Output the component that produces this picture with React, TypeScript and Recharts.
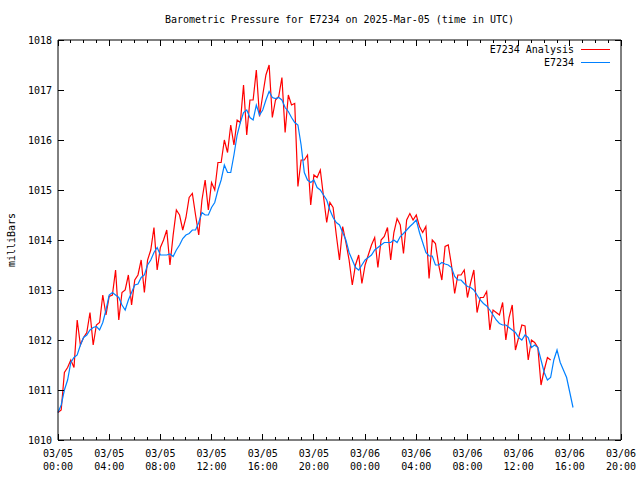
import { LineChart, Line, XAxis, YAxis, Legend } from "recharts";

const FONT = "'DejaVu Sans Mono', 'Liberation Mono', monospace";
const TITLE = "Barometric Pressure for E7234 on 2025-Mar-05 (time in UTC)";
const SERIES_ORDER = ["E7234 Analysis", "E7234"];

// readings every 15 minutes from 03/05 00:00 UTC (one row = one hour)
const analysis = [
  1010.55, 1010.6, 1011.35, 1011.45,
  1011.6, 1011.45, 1012.4, 1011.9,
  1012.05, 1012.15, 1012.55, 1011.9,
  1012.3, 1012.35, 1012.9, 1012.5,
  1012.87, 1012.9, 1013.4, 1012.4,
  1012.95, 1013.0, 1013.3, 1012.7,
  1013.2, 1013.3, 1013.6, 1012.95,
  1013.6, 1013.8, 1014.25, 1013.4,
  1013.85, 1014.0, 1014.2, 1013.5,
  1014.1, 1014.6, 1014.5, 1014.2,
  1014.45, 1014.85, 1014.93, 1014.5,
  1014.1, 1014.8, 1015.2, 1014.6,
  1015.15, 1015.0, 1015.55, 1015.55,
  1016.0, 1015.75, 1016.3, 1015.9,
  1016.4, 1016.35, 1017.1, 1016.1,
  1016.8, 1016.8, 1017.4, 1016.47,
  1016.9, 1017.3, 1017.5, 1016.45,
  1016.8, 1016.87, 1017.25, 1016.15,
  1016.9, 1016.7, 1016.73, 1015.07,
  1015.6, 1015.6, 1015.7, 1014.7,
  1015.3, 1015.25, 1015.4, 1014.87,
  1014.35, 1014.75, 1014.65, 1014.1,
  1013.6, 1014.27, 1013.95, 1013.6,
  1013.1, 1013.5, 1013.7, 1013.13,
  1013.5, 1013.7, 1013.9, 1014.05,
  1013.45, 1014.0, 1014.07, 1014.25,
  1013.6, 1014.15, 1014.43, 1014.3,
  1013.73, 1014.4, 1014.53, 1014.4,
  1014.5, 1014.27, 1014.15, 1014.27,
  1013.23, 1014.0, 1013.93, 1013.5,
  1013.2, 1013.87, 1013.9, 1013.5,
  1012.93, 1013.3, 1013.3, 1013.4,
  1012.85, 1013.15, 1013.4, 1012.55,
  1012.85, 1012.85, 1012.97, 1012.2,
  1012.6, 1012.55, 1012.5, 1012.75,
  1012.0, 1012.45, 1012.7, 1011.8,
  1012.05, 1012.3, 1012.28, 1011.6,
  1012.0, 1011.95, 1011.85, 1011.1,
  1011.4, 1011.65, 1011.6,
];

const station = [
  1010.55, 1010.7, 1011.0, 1011.2,
  1011.55, 1011.65, 1011.7, 1011.9,
  1012.05, 1012.1, 1012.2, 1012.25,
  1012.27, 1012.2, 1012.35, 1012.6,
  1012.9, 1012.95, 1012.9, 1012.85,
  1012.7, 1012.6, 1012.8, 1012.95,
  1013.1, 1013.12, 1013.25, 1013.3,
  1013.5, 1013.6, 1013.75, 1013.85,
  1013.7, 1013.7, 1013.7, 1013.72,
  1013.67, 1013.8, 1013.9, 1014.03,
  1014.1, 1014.13, 1014.2, 1014.2,
  1014.35, 1014.55, 1014.5, 1014.5,
  1014.65, 1014.75, 1015.0, 1015.2,
  1015.5, 1015.35, 1015.35, 1015.7,
  1016.1, 1016.35, 1016.55, 1016.6,
  1016.45, 1016.4, 1016.7, 1016.5,
  1016.6, 1016.8, 1016.97, 1016.85,
  1016.83, 1016.85, 1016.8, 1016.65,
  1016.57, 1016.45, 1016.35, 1016.3,
  1015.9, 1015.35, 1015.2, 1015.15,
  1015.2, 1015.05, 1015.0, 1014.9,
  1014.8, 1014.6, 1014.45, 1014.35,
  1014.3, 1014.15, 1014.0, 1013.75,
  1013.6, 1013.45, 1013.4, 1013.5,
  1013.6, 1013.65, 1013.7, 1013.8,
  1013.85, 1013.9, 1013.95, 1013.95,
  1013.95, 1014.0, 1013.95, 1014.07,
  1014.13, 1014.2, 1014.27, 1014.33,
  1014.4, 1014.15, 1013.95, 1013.75,
  1013.68, 1013.68, 1013.5, 1013.5,
  1013.55, 1013.52, 1013.5, 1013.45,
  1013.27, 1013.2, 1013.2, 1013.13,
  1013.07, 1013.05, 1013.0, 1012.9,
  1012.8, 1012.73, 1012.68, 1012.6,
  1012.5, 1012.4, 1012.33, 1012.3,
  1012.3, 1012.25, 1012.2, 1012.15,
  1012.05, 1012.0, 1012.1, 1012.05,
  1011.85, 1011.9, 1011.85, 1011.6,
  1011.35, 1011.2, 1011.25, 1011.6,
  1011.8, 1011.55, 1011.4, 1011.25,
  1010.95, 1010.65,
];

// hourly minor ticks, labelled every 4 hours
const hourTicks = [
  0, 1, 2, 3, 4, 5, 6, 7, 8, 9, 10, 11, 12, 13, 14, 15, 16, 17, 18, 19, 20, 21, 22,
  23, 24, 25, 26, 27, 28, 29, 30, 31, 32, 33, 34, 35, 36, 37, 38, 39, 40, 41, 42, 43, 44,
];
const labelHours = [0, 4, 8, 12, 16, 20, 24, 28, 32, 36, 40, 44];
const labelDates = ["03/05", "03/05", "03/05", "03/05", "03/05", "03/05", "03/06", "03/06", "03/06", "03/06", "03/06", "03/06"];
const labelTimes = ["00:00", "04:00", "08:00", "12:00", "16:00", "20:00", "00:00", "04:00", "08:00", "12:00", "16:00", "20:00"];
const pressureTicks = [1010, 1011, 1012, 1013, 1014, 1015, 1016, 1017, 1018];

const data = station.map((v, i) => ({
  hour: i * 0.25,
  station: v,
  analysis: i < analysis.length ? analysis[i] : null,
}));

const XTick = (props: any) => {
  const { x, y, payload, side } = props;
  const idx = labelHours.indexOf(payload.value);
  const len = idx >= 0 ? 6 : 3;
  const dir = side === "top" ? 1 : -1;
  return (
    <g>
      <line x1={x} x2={x} y1={y} y2={y + dir * len} stroke="#000" shapeRendering="crispEdges" />
      {side === "bottom" && idx >= 0 && (
        <text textAnchor="middle" fontFamily={FONT} fontSize={10} fill="#000">
          <tspan x={x} y={y + 17}>{labelDates[idx]}</tspan>
          <tspan x={x} y={y + 30}>{labelTimes[idx]}</tspan>
        </text>
      )}
    </g>
  );
};

const YTick = (props: any) => {
  const { x, y, payload, side } = props;
  const dir = side === "right" ? -1 : 1;
  return (
    <g>
      <line x1={x} x2={x + dir * 6} y1={y} y2={y} stroke="#000" shapeRendering="crispEdges" />
      {side === "left" && (
        <text x={x - 6} y={y + 3.5} textAnchor="end" fontFamily={FONT} fontSize={10} fill="#000">
          {payload.value}
        </text>
      )}
    </g>
  );
};

const renderLegend = (props: any) => {
  const items = [...(props.payload || [])].sort(
    (a: any, b: any) => SERIES_ORDER.indexOf(a.value) - SERIES_ORDER.indexOf(b.value)
  );
  return (
    <div style={{ fontFamily: FONT, fontSize: 10, color: "#000" }}>
      {items.map((p: any) => (
        <div key={p.value} style={{ display: "flex", justifyContent: "flex-end", alignItems: "center", height: 13 }}>
          <span>{p.value}</span>
          <svg width={36} height={13}>
            <line x1={7} x2={36} y1={6.5} y2={6.5} stroke={p.color} shapeRendering="crispEdges" />
          </svg>
        </div>
      ))}
    </div>
  );
};

export default function App() {
  return (
    <div style={{ position: "absolute", left: 0, top: 0, background: "#fff" }}>
      <LineChart
        width={640}
        height={480}
        data={data}
        margin={{ top: 39, right: 0, bottom: 0, left: 0 }}
        style={{ fontFamily: FONT }}
      >
        <text x={339.5} y={23} textAnchor="middle" fontFamily={FONT} fontSize={10} fill="#000">
          {TITLE}
        </text>
        <text
          x={15}
          y={240}
          transform="rotate(-90 15 240)"
          textAnchor="middle"
          fontFamily={FONT}
          fontSize={10}
          fill="#000"
        >
          milliBars
        </text>
        <XAxis
          dataKey="hour"
          type="number"
          domain={[0, 44]}
          ticks={hourTicks}
          interval={0}
          height={40}
          tickSize={0}
          tickMargin={0}
          tickLine={false}
          axisLine={{ stroke: "#000" }}
          tick={(p: any) => <XTick {...p} side="bottom" />}
        />
        <XAxis
          xAxisId="top"
          orientation="top"
          dataKey="hour"
          type="number"
          domain={[0, 44]}
          ticks={hourTicks}
          interval={0}
          height={1}
          tickSize={0}
          tickMargin={0}
          tickLine={false}
          axisLine={{ stroke: "#000" }}
          tick={(p: any) => <XTick {...p} side="top" />}
        />
        <YAxis
          type="number"
          domain={[1010, 1018]}
          ticks={pressureTicks}
          interval={0}
          width={58}
          tickSize={0}
          tickMargin={0}
          tickLine={false}
          axisLine={{ stroke: "#000" }}
          tick={(p: any) => <YTick {...p} side="left" />}
        />
        <YAxis
          yAxisId="right"
          orientation="right"
          type="number"
          domain={[1010, 1018]}
          ticks={pressureTicks}
          interval={0}
          width={19}
          tickSize={0}
          tickMargin={0}
          tickLine={false}
          axisLine={{ stroke: "#000" }}
          tick={(p: any) => <YTick {...p} side="right" />}
        />
        <Legend
          layout="vertical"
          align="center"
          verticalAlign="middle"
          content={renderLegend}
          wrapperStyle={{ left: 430, top: 42.5, width: 180 }}
        />
        <Line
          name="E7234 Analysis"
          dataKey="analysis"
          type="linear"
          stroke="#ff0000"
          strokeWidth={1.2}
          dot={false}
          isAnimationActive={false}
        />
        <Line
          name="E7234"
          dataKey="station"
          xAxisId="top"
          yAxisId="right"
          type="linear"
          stroke="#0080ff"
          strokeWidth={1.2}
          dot={false}
          isAnimationActive={false}
        />
      </LineChart>
    </div>
  );
}
